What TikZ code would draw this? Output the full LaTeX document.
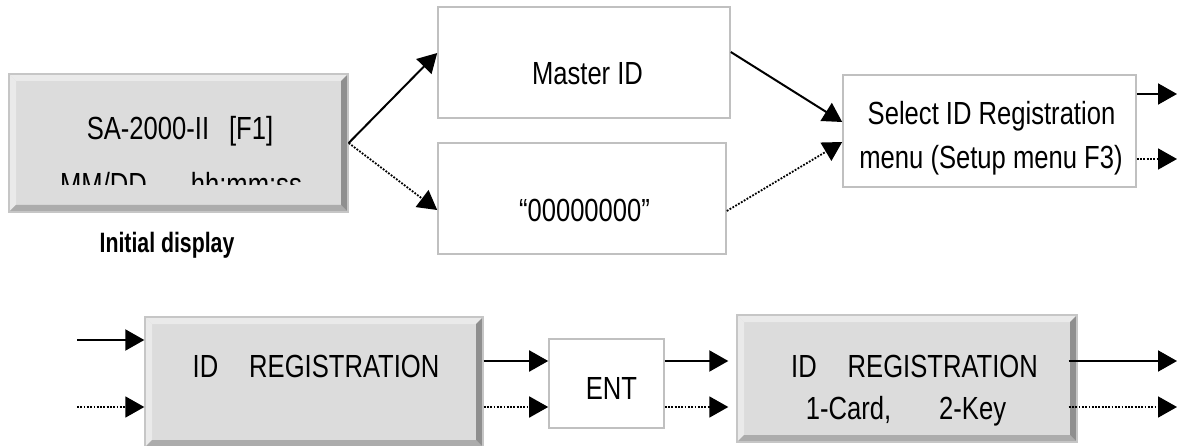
\documentclass[tikz,border=0pt]{standalone}
\usepackage{fontspec}
\setmainfont{Liberation Sans}[FakeStretch=0.8]
\newfontfamily\captionfont{Liberation Sans}[FakeStretch=0.76]
\usetikzlibrary{arrows.meta}

\definecolor{lcdface}{HTML}{DCDCDC}
\definecolor{lcdhi}{HTML}{EAEAEA}
\definecolor{lcdlow}{HTML}{ACACAC}
\definecolor{lcddark}{HTML}{8F8F8F}
\definecolor{lcdedge}{HTML}{C6C6C6}
\definecolor{boxgray}{HTML}{C0C0C0}

\begin{document}
\begin{tikzpicture}[x=1pt,y=-1pt,
  >={Triangle[length=19pt,width=21pt]},
  txt/.style={font=\fontsize{32}{38}\selectfont, inner sep=0pt, anchor=base},
  plainbox/.style={draw=boxgray, line width=1.6pt, fill=white, inner sep=0pt},
  lcd/.style={draw=lcdedge, line width=1.4pt, fill=lcdface, inner sep=0pt,
    path picture={
      \fill[lcdhi] (path picture bounding box.north west) -- (path picture bounding box.north east)
        -- ++(-7pt,-7pt) -- ([shift={(7pt,-7pt)}]path picture bounding box.north west) -- cycle;
      \fill[lcdhi] (path picture bounding box.north west) -- (path picture bounding box.south west)
        -- ++(7pt,7pt) -- ([shift={(7pt,-7pt)}]path picture bounding box.north west) -- cycle;
      \fill[lcdlow] (path picture bounding box.south west) -- (path picture bounding box.south east)
        -- ++(-7pt,7pt) -- ([shift={(7pt,7pt)}]path picture bounding box.south west) -- cycle;
      \fill[lcddark] (path picture bounding box.north east) -- (path picture bounding box.south east)
        -- ++(-7pt,7pt) -- ([shift={(-7pt,-7pt)}]path picture bounding box.north east) -- cycle;
    }},
  solidarrow/.style={->, line width=2pt},
  dotarrow/.style={->, line width=1.8pt, dash pattern=on 1.8pt off 1.5pt}
]
\useasboundingbox (0,0) rectangle (1177,446);
%\draw[help lines] (0,0) grid[step=50pt] (1177,446);

% upper row
\node[lcd, minimum width=339pt, minimum height=138pt] (lcdA) at (178.5,143) {};
\node[plainbox, minimum width=292pt, minimum height=111pt] (master) at (584,62.5) {};
\node[plainbox, minimum width=288pt, minimum height=111pt] (zeros) at (582,198.5) {};
\node[plainbox, minimum width=293pt, minimum height=112pt] (select) at (989.5,131) {};

\node[txt] (lcdAtop) at (180,140) {SA-2000-II\hspace{20pt}[F1]};
\begin{scope}
  \clip (20,100) rectangle (340,185);
  \node[txt] (lcdAbot) at (181,196) {MM/DD\hspace{44pt}hh:mm:ss};
\end{scope}
\node[txt, font=\fontsize{28}{32}\captionfont\bfseries] (initial) at (167,253) {Initial display};
\node[txt] (masterT) at (587.5,85) {Master ID};
\node[txt] (zerosT) at (584.5,222) {“00000000”};
\node[txt] (selectA) at (991.5,125) {Select ID Registration};
\node[txt] (selectB) at (991,169) {menu (Setup menu F3)};

\coordinate (selS) at (1177,94);
\coordinate (selD) at (1177,159);

\draw[solidarrow] (lcdA.east) -- ([yshift=9.5pt]master.west);
\draw[dotarrow] (lcdA.east) -- ([yshift=-11.5pt]zeros.west);
\draw[solidarrow] ([yshift=10.5pt]master.east) -- ([yshift=9pt]select.west);
\draw[dotarrow] ([yshift=-12.5pt]zeros.east) -- ([yshift=-11pt]select.west);
\draw[solidarrow] ([yshift=37pt]select.east) -- (selS);
\draw[dotarrow] ([yshift=-28pt]select.east) -- (selD);

% lower row
\node[lcd, minimum width=338pt, minimum height=130pt] (lcdB) at (314,382) {};
\node[plainbox, minimum width=115pt, minimum height=89pt] (ent) at (606.5,383.5) {};
\node[lcd, minimum width=340pt, minimum height=127pt] (lcdC) at (907,378.5) {};

\node[txt] (lcdBT) at (316,377) {ID\hspace{31pt}REGISTRATION};
\node[txt] (entT) at (611.5,399) {ENT};
\node[txt] (lcdCtop) at (914.5,377) {ID\hspace{31pt}REGISTRATION};
\node[txt] (lcdCbot) at (906,419) {1-Card,\hspace{48pt}2-Key};

\coordinate (rowS) at (0,361);
\coordinate (rowD) at (0,407);
\coordinate (inS) at (77,340);
\coordinate (inD) at (77,407);
\coordinate (outS) at (1177,361);
\coordinate (outD) at (1177,407);

\draw[solidarrow] (inS) -- (inS -| lcdB.west);
\draw[dotarrow] (inD) -- (inD -| lcdB.west);
\draw[solidarrow] (lcdB.east |- rowS) -- (ent.west |- rowS);
\draw[dotarrow] (lcdB.east |- rowD) -- (ent.west |- rowD);
\draw[solidarrow, shorten >=8pt] (ent.east |- rowS) -- (lcdC.west |- rowS);
\draw[dotarrow, shorten >=8pt] (ent.east |- rowD) -- (lcdC.west |- rowD);
\draw[solidarrow, shorten <=-9pt] (lcdC.east |- rowS) -- (outS);
\draw[dotarrow, shorten <=-9pt] (lcdC.east |- rowD) -- (outD);
\end{tikzpicture}
\end{document}
